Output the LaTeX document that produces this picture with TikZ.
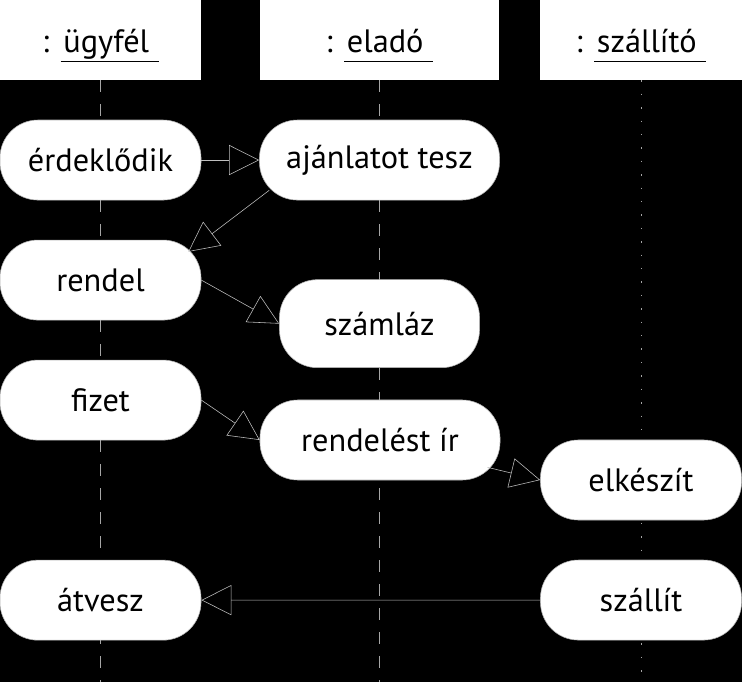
\documentclass[tikz,border=0pt]{standalone}
\usepackage{fontspec}
\setmainfont{PT Sans}
\usetikzlibrary{arrows.meta, positioning}
\newcommand{\uname}[1]{\underline{\vphantom{gy}\hspace{2pt}#1\hspace{7pt}}}

\begin{document}
\begin{tikzpicture}[x=0.025cm, y=-0.025cm,
            node distance=3cm,
            every node/.style={font=\fontsize{23}{27}\selectfont, align=center},
            objbox/.style={rectangle, fill=white, draw=none, minimum height=2cm, inner sep=0pt, text height=0.8cm, text depth=0.2cm},
            actbox/.style={rectangle, rounded corners=0.95cm, fill=white, draw=gray!60, minimum width=5.025cm, minimum height=2cm},
            msg/.style={-{Triangle[open, length=0.75cm, width=0.75cm]}, draw=gray!50, thin},
            lifeline/.style={draw=gray!70, thin, dash pattern=on 0.3cm off 0.3cm}
        ]
            \fill[black] (0,0) rectangle (742,682);
            \useasboundingbox (0,0) rectangle (742,682);
            % objektumok
            \node[objbox, minimum width=5.025cm] (ugyfel) at (100.5,40) {: \uname{ügyfél}};
            \node[objbox, minimum width=5.975cm] (elado) at (379.5,40) {: \uname{eladó}};
            \node[objbox, minimum width=5.05cm] (szallito) at (641,40) {: \uname{szállító}};
            % eletvonalak
            \draw[lifeline] (ugyfel.south) -- (ugyfel.south |- 0,682);
            \draw[lifeline] (elado.south) -- (elado.south |- 0,682);
            \draw[lifeline, dash pattern=on 1pt off 0.3cm] (szallito.south) -- (szallito.south |- 0,682);
            % tevekenysegek
            \node[actbox, below of=ugyfel] (erdeklodik) {érdeklődik};
            \node[actbox, below of=erdeklodik] (rendel) {rendel};
            \node[actbox, below of=rendel] (fizet) {fizet};
            \node[actbox, below of=fizet, yshift=-2cm] (atvesz) {átvesz};
            \node[actbox, below of=elado, minimum width=6cm] (ajanlat) {ajánlatot tesz};
            \node[actbox, below of=ajanlat, yshift=-1.09cm, minimum width=5cm, minimum height=2.2cm] (szamlaz) {számláz};
            \node[actbox, minimum width=6cm] (rendeles) at (380,440) {rendelést ír};
            \node[actbox] (elkeszit) at (641,480) {elkészít};
            \node[actbox, below of=elkeszit] (szallit) {szállít};
            % uzenetek
            \draw[msg] (erdeklodik) -- (ajanlat);
            \draw[msg] ([shift={(10,-10)}]ajanlat.south west) -- ([shift={(-13,12)}]rendel.north east);
            \draw[msg] (rendel.east) -- (szamlaz.west);
            \draw[msg] (fizet.east) -- (rendeles.west);
            \draw[msg] ([shift={(-13,-13)}]rendeles.south east) -- (elkeszit.west);
            \draw[msg] (szallit) -- (atvesz);
        \end{tikzpicture}
\end{document}
